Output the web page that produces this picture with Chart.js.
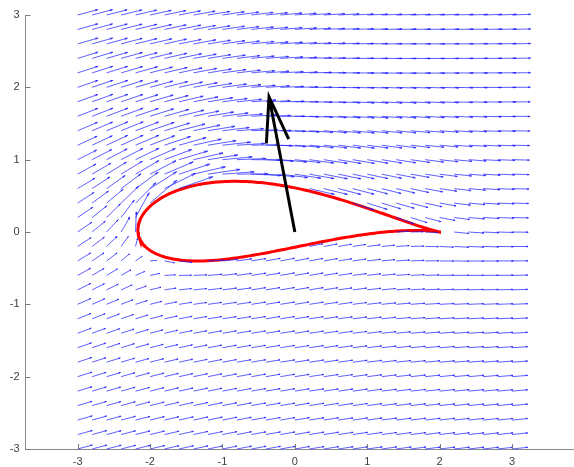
<!DOCTYPE html>
<html>
<head>
<meta charset="utf-8">
<script src="https://cdn.jsdelivr.net/npm/chart.js@4"></script>
<style>
  html, body { margin: 0; padding: 0; background: #ffffff; }
  #wrap { width: 574px; height: 467px; position: relative; }
</style>
</head>
<body>
<div id="wrap"><canvas id="flow"></canvas></div>
<script>
// Sample grid on which the velocity field is drawn
const gridX = [-3, -2.8, -2.6, -2.4, -2.2, -2, -1.8, -1.6, -1.4, -1.2, -1, -0.8, -0.6, -0.4, -0.2,
               0, 0.2, 0.4, 0.6, 0.8, 1, 1.2, 1.4, 1.6, 1.8, 2, 2.2, 2.4, 2.6, 2.8, 3];
const gridY = [-3, -2.8, -2.6, -2.4, -2.2, -2, -1.8, -1.6, -1.4, -1.2, -1, -0.8, -0.6, -0.4, -0.2,
               0, 0.2, 0.4, 0.6, 0.8, 1, 1.2, 1.4, 1.6, 1.8, 2, 2.2, 2.4, 2.6, 2.8, 3];

// Axis tick values
const xTicks = [-3, -2, -1, 0, 1, 2, 3];
const yTicks = [-3, -2, -1, 0, 1, 2, 3];

// Joukowski map z = ζ + 1/ζ; generating circle centre (re, im), circle passes through ζ = 1
const circleCenter = [-0.25, 0.12];
// Free stream: speed, angle of attack in degrees
const freeStream = [1.0, 10];
// Lift force vector, drawn from the origin
const liftOrigin = [0, 0];
const liftVector = [-0.357, 1.87];

// ---- drawing constants ----
const ARROW_SCALE = 0.24;      // length per unit speed
const FIELD_HEAD = [0.12, 0.25];  // field arrows: head length / half-width ratios
const LIFT_HEAD = [0.33, 0.25];   // lift arrow: head length / half-width ratios

// ---- small complex helpers ----
const C = (re, im) => ({ re, im });
const cadd = (a, b) => C(a.re + b.re, a.im + b.im);
const csub = (a, b) => C(a.re - b.re, a.im - b.im);
const cmul = (a, b) => C(a.re * b.re - a.im * b.im, a.re * b.im + a.im * b.re);
const cdiv = (a, b) => { const d = b.re * b.re + b.im * b.im; return C((a.re * b.re + a.im * b.im) / d, (a.im * b.re - a.re * b.im) / d); };
const cabs = a => Math.hypot(a.re, a.im);
const cscale = (a, s) => C(a.re * s, a.im * s);
const cexpi = t => C(Math.cos(t), Math.sin(t));
const csqrt = a => { const r = cabs(a); const re = Math.sqrt((r + a.re) / 2); let im = Math.sqrt(Math.max(0, (r - a.re) / 2)); if (a.im < 0) im = -im; return C(re, im); };

const z0 = C(circleCenter[0], circleCenter[1]);
const R = Math.hypot(1 - circleCenter[0], circleCenter[1]);
const U = freeStream[0];
const aoa = freeStream[1] * Math.PI / 180;
const beta = Math.atan2(circleCenter[1], 1 - circleCenter[0]);
const gamma = 4 * Math.PI * U * R * Math.sin(aoa + beta);   // Kutta condition

function velocityAt(x, y) {
  const z = C(x, y);
  const s = csqrt(csub(cmul(z, z), C(4, 0)));
  const za = cscale(cadd(z, s), 0.5);
  const zb = cscale(csub(z, s), 0.5);
  let zeta = null;
  if (cabs(csub(za, z0)) > R * (1 + 1e-9)) zeta = za;
  else if (cabs(csub(zb, z0)) > R * (1 + 1e-9)) zeta = zb;
  if (!zeta) return null;                       // inside the profile
  const zp = csub(zeta, z0);
  const term1 = cexpi(-aoa);
  const term2 = cdiv(cscale(cexpi(aoa), R * R), cmul(zp, zp));
  const term3 = cdiv(C(0, gamma / (2 * Math.PI)), zp);
  const dWdzeta = cadd(cscale(csub(term1, term2), U), term3);
  const dzdzeta = csub(C(1, 0), cdiv(C(1, 0), cmul(zeta, zeta)));
  const w = cdiv(dWdzeta, dzdzeta);
  const u = w.re, v = -w.im;
  if (!isFinite(u) || !isFinite(v)) return null;
  return [u, v];
}

const GAP = { x: NaN, y: NaN };
function arrowPoints(x, y, u, v, head) {
  const [ha, hb] = head;
  const tx = x + u, ty = y + v;
  return [
    { x: x, y: y }, { x: tx, y: ty }, GAP,
    { x: tx - ha * (u + hb * v), y: ty - ha * (v - hb * u) },
    { x: tx, y: ty },
    { x: tx - ha * (u - hb * v), y: ty - ha * (v + hb * u) },
    GAP
  ];
}

// quiver field
const quiverPts = [];
for (const y of gridY) {
  for (const x of gridX) {
    const vel = velocityAt(x, y);
    if (!vel) continue;
    quiverPts.push(...arrowPoints(x, y, vel[0] * ARROW_SCALE, vel[1] * ARROW_SCALE, FIELD_HEAD));
  }
}

// airfoil outline: image of the circle
const airfoilPts = [];
for (let k = 0; k <= 360; k++) {
  const zeta = cadd(z0, cscale(cexpi(k * Math.PI / 180), R));
  const z = cadd(zeta, cdiv(C(1, 0), zeta));
  airfoilPts.push({ x: z.re, y: z.im });
}

// lift arrow
const liftPts = arrowPoints(liftOrigin[0], liftOrigin[1], liftVector[0], liftVector[1], LIFT_HEAD);

// inward tick marks on both axes
const inwardTicks = {
  id: 'inwardTicks',
  afterDraw(chart) {
    const { ctx, scales: { x, y }, chartArea } = chart;
    ctx.save();
    ctx.strokeStyle = '#7a7a7a';
    ctx.lineWidth = 1;
    ctx.beginPath();
    for (const v of xTicks) {
      const px = Math.round(x.getPixelForValue(v)) + 0.5;
      ctx.moveTo(px, chartArea.bottom);
      ctx.lineTo(px, chartArea.bottom - 5);
    }
    for (const v of yTicks) {
      const py = Math.round(y.getPixelForValue(v)) + 0.5;
      ctx.moveTo(chartArea.left, py);
      ctx.lineTo(chartArea.left + 5, py);
    }
    ctx.stroke();
    ctx.restore();
  }
};

const tickFont = { family: "'Liberation Sans', Arial, Helvetica, sans-serif", size: 11 };

new Chart(document.getElementById('flow'), {
  type: 'scatter',
  data: {
    datasets: [
      { data: liftPts, showLine: true, borderColor: '#000000', borderWidth: 3, pointRadius: 0,
        spanGaps: false, clip: false, borderJoinStyle: 'miter' },
      { data: quiverPts, showLine: true, borderColor: '#1a1aff', borderWidth: 0.7, pointRadius: 0,
        spanGaps: false, clip: false },
      { data: airfoilPts, showLine: true, borderColor: '#ff0000', borderWidth: 3, pointRadius: 0,
        spanGaps: false, clip: false }
    ]
  },
  options: {
    animation: false,
    responsive: true,
    maintainAspectRatio: false,
    events: [],
    layout: { padding: { top: 15, right: 0, bottom: 0, left: 0 } },
    plugins: { legend: { display: false }, tooltip: { enabled: false } },
    scales: {
      x: {
        type: 'linear', min: -3.72, max: 3.855,
        afterBuildTicks: s => { s.ticks = xTicks.map(v => ({ value: v })); },
        afterFit: s => { s.height = 18; },
        grid: { display: false, drawTicks: false, tickLength: 0 },
        border: { display: true, color: '#8a8a8a', width: 1 },
        ticks: { padding: 6, font: tickFont, color: '#404040', maxRotation: 0, autoSkip: false,
                 callback: v => String(v) }
      },
      y: {
        type: 'linear', min: -3, max: 3,
        afterBuildTicks: s => { s.ticks = yTicks.map(v => ({ value: v })); },
        afterFit: s => { s.width = 25.5; },
        grid: { display: false, drawTicks: false, tickLength: 0 },
        border: { display: true, color: '#8a8a8a', width: 1 },
        ticks: { padding: 6, font: tickFont, color: '#404040', autoSkip: false,
                 callback: v => String(v) }
      }
    }
  },
  plugins: [inwardTicks]
});
</script>
</body>
</html>
